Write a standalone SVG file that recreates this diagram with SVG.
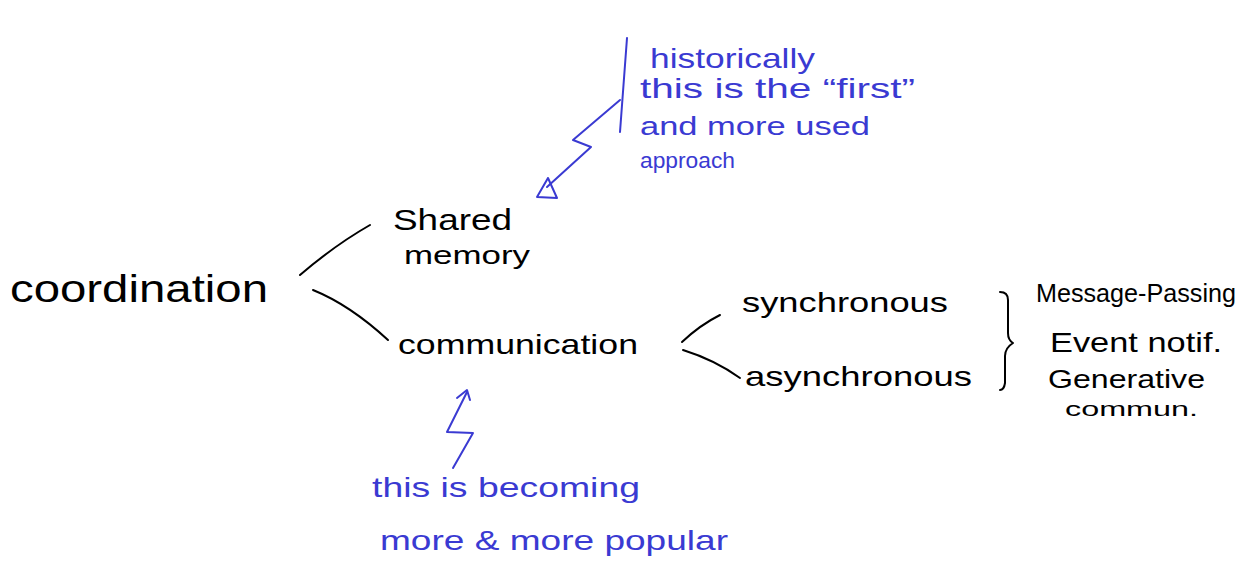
<svg xmlns="http://www.w3.org/2000/svg" width="1258" height="579" viewBox="0 0 1258 579">
<style>
.ink{fill:none;stroke:#000;stroke-width:2;stroke-linecap:round;stroke-linejoin:round}
.blue{fill:none;stroke:#3a3ad2;stroke-width:2;stroke-linecap:round;stroke-linejoin:round}
.t{font-family:"Liberation Sans","DejaVu Sans",sans-serif;fill:#000}
.tb{font-family:"Liberation Sans","DejaVu Sans",sans-serif;fill:#3a3ad2}
</style>
<rect width="1258" height="579" fill="#fff"/>
<g id="connectors">
<path class="ink" d="M300,275 Q335,245 370,225"/>
<path class="ink" d="M313,290 Q350,305 388,340"/>
<path class="ink" d="M682,342 Q700,325 720,315"/>
<path class="ink" d="M683,350 Q715,360 740,378"/>
<path class="ink" d="M1000,292 Q1008,292 1008,300 L1008,333 Q1008,340 1013,343 Q1005,348 1005,356 L1005,383 Q1004,390 1000,390"/>
<path class="blue" d="M627,38 L620,132"/>
<path class="blue" d="M620,100 L573,140 L591,147 L547,187"/>
<path class="blue" d="M548,178 L537,197 L557,198 Z"/>
<path class="blue" d="M453,468 L473,433 L447,432 L467,392"/>
<path class="blue" d="M457,398 L467,390 L470,400"/>
</g>
<g id="coordination"><text class="t" x="10" y="302" font-size="38" textLength="258" lengthAdjust="spacingAndGlyphs">coordination</text></g>
<g id="shared-memory">
<text class="t" x="393" y="230" font-size="30" textLength="119" lengthAdjust="spacingAndGlyphs">Shared</text>
<text class="t" x="404" y="264" font-size="26" textLength="126" lengthAdjust="spacingAndGlyphs">memory</text>
</g>
<g id="communication"><text class="t" x="398" y="354" font-size="28" textLength="240" lengthAdjust="spacingAndGlyphs">communication</text></g>
<g id="synchronous"><text class="t" x="742" y="312" font-size="28" textLength="206" lengthAdjust="spacingAndGlyphs">synchronous</text></g>
<g id="asynchronous"><text class="t" x="745" y="386" font-size="28" textLength="227" lengthAdjust="spacingAndGlyphs">asynchronous</text></g>
<g id="kinds">
<text class="t" x="1036" y="302" font-size="26" textLength="200" lengthAdjust="spacingAndGlyphs">Message-Passing</text>
<text class="t" x="1050" y="352" font-size="28" textLength="172" lengthAdjust="spacingAndGlyphs">Event notif.</text>
<text class="t" x="1048" y="388" font-size="26" textLength="157" lengthAdjust="spacingAndGlyphs">Generative</text>
<text class="t" x="1065" y="416" font-size="20" textLength="133" lengthAdjust="spacingAndGlyphs">commun.</text>
</g>
<g id="note-historically">
<text class="tb" x="650" y="68" font-size="28" textLength="165" lengthAdjust="spacingAndGlyphs">historically</text>
<text class="tb" x="640" y="98" font-size="28" textLength="275" lengthAdjust="spacingAndGlyphs">this is the “first”</text>
<text class="tb" x="640" y="135" font-size="26" textLength="230" lengthAdjust="spacingAndGlyphs">and more used</text>
<text class="tb" x="640" y="168" font-size="22" textLength="95" lengthAdjust="spacingAndGlyphs">approach</text>
</g>
<g id="note-popular">
<text class="tb" x="372" y="497" font-size="28" textLength="268" lengthAdjust="spacingAndGlyphs">this is becoming</text>
<text class="tb" x="380" y="550" font-size="28" textLength="348" lengthAdjust="spacingAndGlyphs">more &amp; more popular</text>
</g>
</svg>
